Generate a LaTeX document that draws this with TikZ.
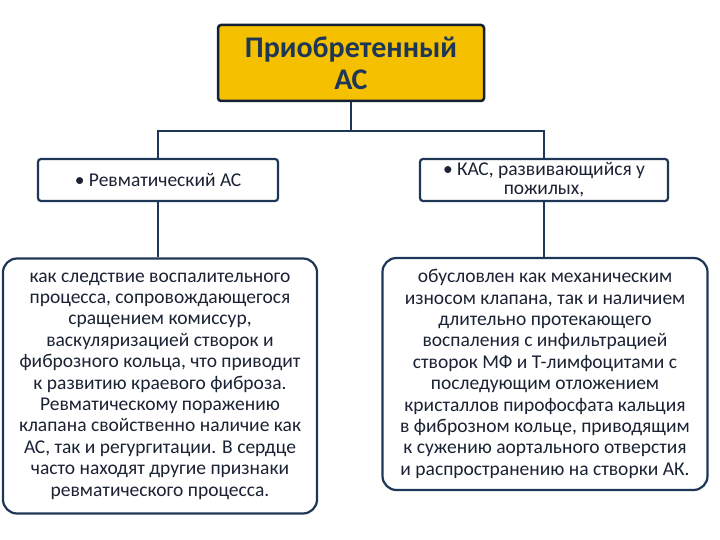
\documentclass[tikz,border=0pt]{standalone}
\usepackage{fontspec}
\setmainfont{Carlito}
\begin{document}
\begin{tikzpicture}[x=1pt,y=-1pt,
 line/.style={draw=navy,line width=2pt},
 box/.style={draw=navy,line width=2.2pt,fill=white,rounded corners=3pt,text=txt,align=center,font=\fontsize{19.5}{19}\selectfont},
 big/.style={draw=navy,line width=2.2pt,fill=white,rounded corners=14pt,text=txt,align=center,font=\fontsize{19.5}{21.4}\selectfont,inner sep=0pt}]
\definecolor{navy}{HTML}{1F3756}
\definecolor{txt}{HTML}{1A2233}
\definecolor{gold}{HTML}{F5C000}
\useasboundingbox (0,0) rectangle (720,540);
\fill[white] (0,0) rectangle (720,540);
\node[draw=navy!60!black,line width=2.5pt,fill=gold,rounded corners=3pt,minimum width=266pt,minimum height=76pt,align=center,font=\fontsize{30}{32}\selectfont\bfseries,text=navy] (top) at (351,63) {Приобретенный\\АС};
\node[box,minimum width=240pt,minimum height=42pt] (l1) at (158,180) {• Ревматический АС};
\node[box,minimum width=248pt,minimum height=42pt,inner sep=1pt] (r1) at (544,180) {• КАС, развивающийся у\\пожилых,};
\node[big,minimum width=314pt,minimum height=255pt] (l2) at (160,386) {как следствие воспалительного\\процесса, сопровождающегося\\сращением комиссур,\\васкуляризацией створок и\\фиброзного кольца, что приводит\\к развитию краевого фиброза.\\Ревматическому поражению\\клапана свойственно наличие как\\АС, так и регургитации. В сердце\\часто находят другие признаки\\ревматического процесса.};
\node[big,minimum width=325pt,minimum height=232pt] (r2) at (545,374) {обусловлен как механическим\\износом клапана, так и наличием\\длительно протекающего\\воспаления с инфильтрацией\\створок МФ и Т-лимфоцитами с\\последующим отложением\\кристаллов пирофосфата кальция\\в фиброзном кольце, приводящим\\к сужению аортального отверстия\\и распространению на створки АК.};
\coordinate (m) at (351,131);
\draw[line] (top.south) -- (m);
\draw[line] (l1.north) |- (m) -| (r1.north);
\draw[line] (l1.south) -- (l1.south |- l2.north);
\draw[line] (r1.south) -- (r1.south |- r2.north);
\end{tikzpicture}
\end{document}
